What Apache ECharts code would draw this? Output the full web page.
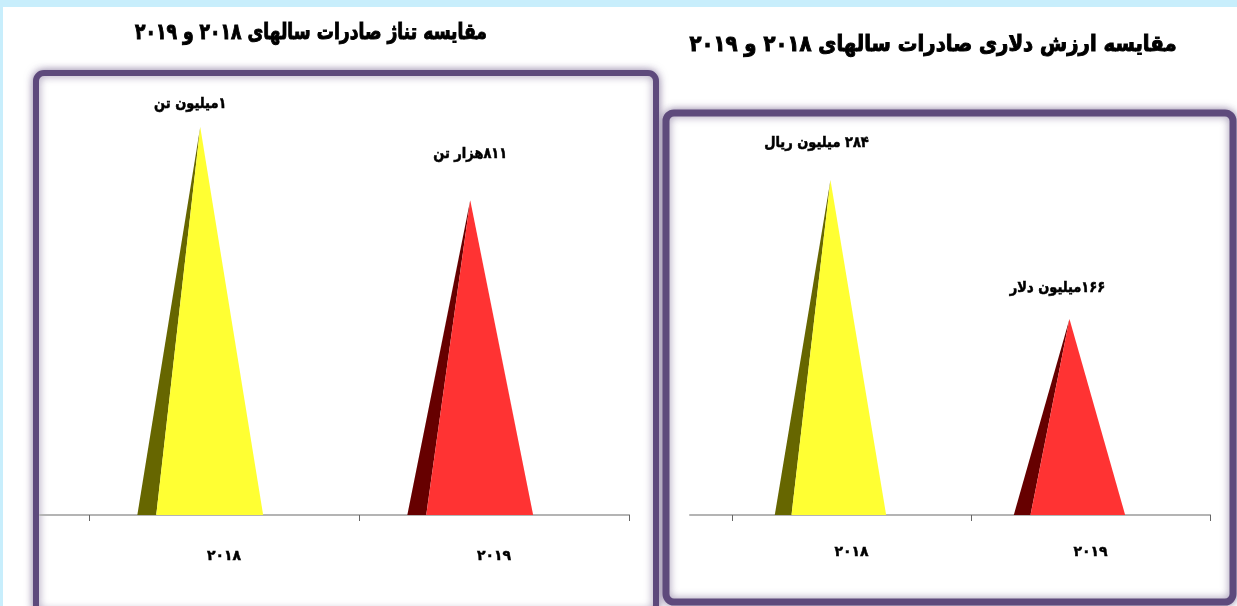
<!DOCTYPE html>
<html>
<head>
<meta charset="utf-8">
<script src="https://cdn.jsdelivr.net/npm/echarts@6/dist/echarts.min.js"></script>
<style>
html,body{margin:0;padding:0;background:#c8eefc;}
#chart{width:1237px;height:606px;direction:rtl;}
</style>
</head>
<body>
<div id="chart" dir="rtl"></div>
<script>
// ---- data ----
const years = ['۲۰۱۸', '۲۰۱۹'];
const tonnage = [1000, 811];            // thousand tons
const tonnageLabels = ['۱میلیون تن', '۸۱۱هزار تن'];
const exportValue = [284, 166];         // million
const valueLabels = ['۲۸۴ میلیون ریال', '۱۶۶میلیون دلار'];
const titleTonnage = 'مقایسه تناژ صادرات سالهای ۲۰۱۸ و ۲۰۱۹';
const titleValue = 'مقایسه ارزش دلاری صادرات سالهای ۲۰۱۸ و ۲۰۱۹';

// ---- style ----
const FONT = '"DejaVu Sans", sans-serif';
const lightColors = ['#ffff33', '#ff3333'];
const darkColors = ['#666600', '#660000'];
const BORDER = '#5e4a7c';

function pyramid(labels, lift, shift) {
  return function (params, api) {
    const idx = api.value(0);
    const v = api.value(1);
    const base = api.coord([idx, 0]);
    const top = api.coord([idx, v]);
    const band = api.size([1, 0])[0];
    const cx = base[0] - band * 0.088;
    const half = band * 0.233;
    const L = cx - half, R = cx + half, D = L + band * 0.07;
    const apex = [cx, top[1]];
    return {
      type: 'group',
      children: [
        { type: 'polygon', shape: { points: [[L, base[1]], [D, base[1]], apex] }, style: { fill: darkColors[idx] } },
        { type: 'polygon', shape: { points: [[D, base[1]], [R, base[1]], apex] }, style: { fill: lightColors[idx] } },
        { type: 'text', x: apex[0] + shift[idx], y: apex[1] - lift[idx], scaleY: 1.15,
          style: { text: labels[idx], x: 0, y: 0,
          textAlign: 'center', textVerticalAlign: 'middle', fill: '#000', stroke: '#000', lineWidth: 0.5,
          font: 'bold 13px ' + FONT } }
      ]
    };
  };
}

const axisLineStyle = { color: '#b4b4b4', width: 2 };
const labelStyle = { color: '#000', fontWeight: 'bold', fontSize: 14, fontFamily: FONT,
  textBorderColor: '#000', textBorderWidth: 0.5 };

const chart = echarts.init(document.getElementById('chart'));
chart.setOption({
  backgroundColor: '#c8eefc',
  animation: false,
  graphic: [
    { type: 'rect', shape: { x: 3, y: 7, width: 1234, height: 600 }, style: { fill: '#ffffff' }, z: -10 },
    { type: 'rect', shape: { x: 36, y: 73, width: 620, height: 540, r: 8 },
      style: { fill: '#ffffff', stroke: BORDER, lineWidth: 6, shadowBlur: 8, shadowColor: 'rgba(94,74,124,0.6)' }, z: -5 },
    { type: 'rect', shape: { x: 666, y: 113, width: 567, height: 489, r: 8 },
      style: { fill: '#ffffff', stroke: BORDER, lineWidth: 7, shadowBlur: 8, shadowColor: 'rgba(94,74,124,0.6)' }, z: -5 },
    { type: 'text', x: 311, y: 33, scaleX: 0.78, scaleY: 1.0,
      style: { text: titleTonnage, x: 0, y: 0, textAlign: 'center', textVerticalAlign: 'middle',
      fill: '#000', stroke: '#000', lineWidth: 1, font: 'bold 22px ' + FONT } },
    { type: 'text', x: 933, y: 45, scaleX: 0.895, scaleY: 1.0,
      style: { text: titleValue, x: 0, y: 0, textAlign: 'center', textVerticalAlign: 'middle',
      fill: '#000', stroke: '#000', lineWidth: 1, font: 'bold 22px ' + FONT } }
  ],
  grid: [
    { left: 89, right: 608, top: 127, bottom: 91 },
    { left: 732, right: 27, top: 161, bottom: 91 },
    { left: 40, right: 608, top: 514, bottom: 91 },
    { left: 690, right: 27, top: 514, bottom: 91 }
  ],
  xAxis: [
    { type: 'value', gridIndex: 2, min: 0, max: 1, axisLine: { show: true, lineStyle: axisLineStyle },
      axisTick: { show: false }, axisLabel: { show: false }, splitLine: { show: false } },
    { type: 'value', gridIndex: 3, min: 0, max: 1, axisLine: { show: true, lineStyle: axisLineStyle },
      axisTick: { show: false }, axisLabel: { show: false }, splitLine: { show: false } },
    { type: 'category', gridIndex: 0, data: years, boundaryGap: true, z: 3,
      axisLine: { show: true, lineStyle: axisLineStyle },
      axisTick: { show: true, inside: false, interval: 0, length: 6, lineStyle: { color: '#666', width: 1 } },
      axisLabel: Object.assign({ margin: 34 }, labelStyle) },
    { type: 'category', gridIndex: 1, data: years, boundaryGap: true, z: 3,
      axisLine: { show: true, lineStyle: axisLineStyle },
      axisTick: { show: true, inside: false, interval: 0, length: 6, lineStyle: { color: '#666', width: 1 } },
      axisLabel: Object.assign({ margin: 30 }, labelStyle) }
  ],
  yAxis: [
    { type: 'value', gridIndex: 0, min: 0, max: 1000, show: false },
    { type: 'value', gridIndex: 1, min: 0, max: 300, show: false },
    { type: 'value', gridIndex: 2, show: false },
    { type: 'value', gridIndex: 3, show: false }
  ],
  series: [
    { type: 'custom', xAxisIndex: 2, yAxisIndex: 0, z: 5,
      data: tonnage.map((v, i) => [i, v]),
      renderItem: pyramid(tonnageLabels, [23, 46], [-10, 0]) },
    { type: 'custom', xAxisIndex: 3, yAxisIndex: 1, z: 5,
      data: exportValue.map((v, i) => [i, v]),
      renderItem: pyramid(valueLabels, [37, 31], [-14, -12]) }
  ]
});
</script>
</body>
</html>
